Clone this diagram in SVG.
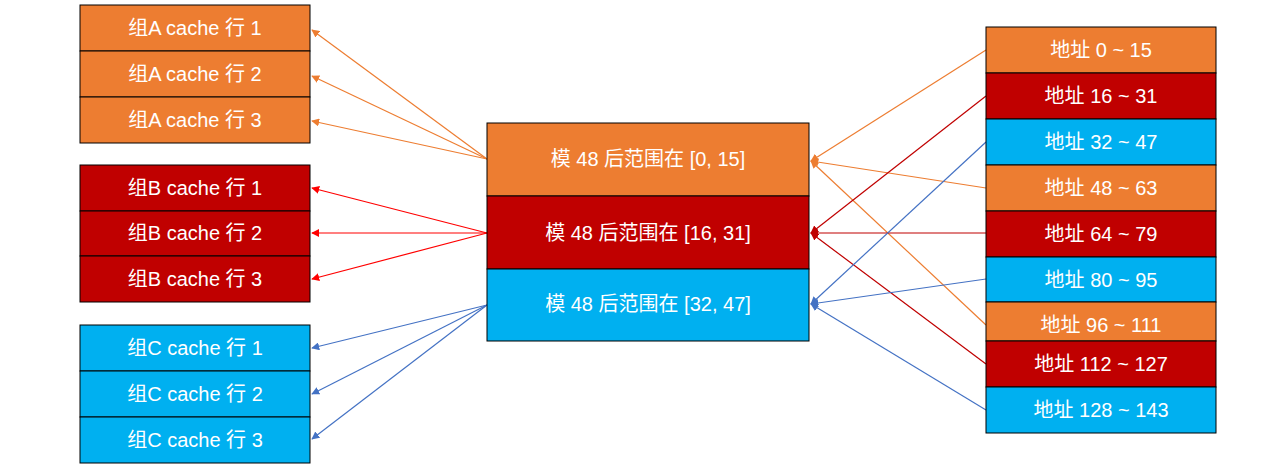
<svg xmlns="http://www.w3.org/2000/svg" width="1268" height="473" viewBox="0 0 1268 473">
<style>
text{font-family:"Liberation Sans","Noto Sans CJK SC",sans-serif;font-size:20px;fill:#fff;text-anchor:middle;dominant-baseline:central}
rect{stroke:#000;stroke-width:1}
.o{fill:#ED7D31}.r{fill:#C00000}.b{fill:#00B0F0}
line{stroke-width:1.2;fill:none}
.lo{stroke:#ED7D31;marker-end:url(#mo)}.lr{stroke:#FF0000;marker-end:url(#mr)}.lr2{stroke:#C00000;marker-end:url(#mr2)}.lb{stroke:#4472C4;marker-end:url(#mb)}
</style>
<defs>
<marker id="mo" viewBox="0 0 10 10" refX="9" refY="5" markerWidth="8" markerHeight="8" orient="auto" markerUnits="userSpaceOnUse"><path d="M0,0L10,5L0,10Z" fill="#ED7D31"/></marker>
<marker id="mr" viewBox="0 0 10 10" refX="9" refY="5" markerWidth="8" markerHeight="8" orient="auto" markerUnits="userSpaceOnUse"><path d="M0,0L10,5L0,10Z" fill="#FF0000"/></marker>
<marker id="mr2" viewBox="0 0 10 10" refX="9" refY="5" markerWidth="8" markerHeight="8" orient="auto" markerUnits="userSpaceOnUse"><path d="M0,0L10,5L0,10Z" fill="#C00000"/></marker>
<marker id="mb" viewBox="0 0 10 10" refX="9" refY="5" markerWidth="8" markerHeight="8" orient="auto" markerUnits="userSpaceOnUse"><path d="M0,0L10,5L0,10Z" fill="#4472C4"/></marker>
</defs>
<g id="connectors">
<line class="lo" x1="487" y1="159" x2="312" y2="30"/>
<line class="lo" x1="487" y1="159" x2="312" y2="76"/>
<line class="lo" x1="487" y1="159" x2="312" y2="121"/>
<line class="lr" x1="487" y1="233" x2="312" y2="188"/>
<line class="lr" x1="487" y1="233" x2="312" y2="233"/>
<line class="lr" x1="487" y1="233" x2="312" y2="279"/>
<line class="lb" x1="487" y1="305" x2="312" y2="348"/>
<line class="lb" x1="487" y1="305" x2="312" y2="394"/>
<line class="lb" x1="487" y1="305" x2="312" y2="439"/>
<line class="lo" x1="986" y1="50" x2="811" y2="161"/>
<line class="lo" x1="986" y1="188" x2="811" y2="161"/>
<line class="lo" x1="986" y1="325" x2="811" y2="161"/>
<line class="lr2" x1="986" y1="96" x2="811" y2="233"/>
<line class="lr2" x1="986" y1="233" x2="811" y2="233"/>
<line class="lr2" x1="986" y1="364" x2="811" y2="233"/>
<line class="lb" x1="986" y1="142" x2="811" y2="304"/>
<line class="lb" x1="986" y1="279" x2="811" y2="304"/>
<line class="lb" x1="986" y1="410" x2="811" y2="304"/>
</g>
<g id="a1"><rect class="o" x="80" y="5" width="230" height="46"/><text x="195" y="28">组A cache 行 1</text></g>
<g id="a2"><rect class="o" x="80" y="51" width="230" height="46"/><text x="195" y="74">组A cache 行 2</text></g>
<g id="a3"><rect class="o" x="80" y="97" width="230" height="46"/><text x="195" y="120">组A cache 行 3</text></g>
<g id="b1"><rect class="r" x="80" y="165" width="230" height="46"/><text x="195" y="188">组B cache 行 1</text></g>
<g id="b2"><rect class="r" x="80" y="211" width="230" height="45"/><text x="195" y="233">组B cache 行 2</text></g>
<g id="b3"><rect class="r" x="80" y="256" width="230" height="46"/><text x="195" y="279">组B cache 行 3</text></g>
<g id="c1"><rect class="b" x="80" y="325" width="230" height="46"/><text x="195" y="348">组C cache 行 1</text></g>
<g id="c2"><rect class="b" x="80" y="371" width="230" height="46"/><text x="195" y="394">组C cache 行 2</text></g>
<g id="c3"><rect class="b" x="80" y="417" width="230" height="46"/><text x="195" y="440">组C cache 行 3</text></g>
<g id="m1"><rect class="o" x="487" y="123" width="322" height="73"/><text x="648" y="159">模 48 后范围在 [0, 15]</text></g>
<g id="m2"><rect class="r" x="487" y="196" width="322" height="73"/><text x="648" y="233">模 48 后范围在 [16, 31]</text></g>
<g id="m3"><rect class="b" x="487" y="269" width="322" height="72"/><text x="648" y="304">模 48 后范围在 [32, 47]</text></g>
<g id="d0"><rect class="o" x="986" y="27" width="230" height="46"/><text x="1101" y="50">地址 0 ~ 15</text></g>
<g id="d1"><rect class="r" x="986" y="73" width="230" height="46"/><text x="1101" y="96">地址 16 ~ 31</text></g>
<g id="d2"><rect class="b" x="986" y="119" width="230" height="46"/><text x="1101" y="142">地址 32 ~ 47</text></g>
<g id="d3"><rect class="o" x="986" y="165" width="230" height="46"/><text x="1101" y="188">地址 48 ~ 63</text></g>
<g id="d4"><rect class="r" x="986" y="211" width="230" height="46"/><text x="1101" y="234">地址 64 ~ 79</text></g>
<g id="d5"><rect class="b" x="986" y="257" width="230" height="45"/><text x="1101" y="280">地址 80 ~ 95</text></g>
<g id="d6"><rect class="o" x="986" y="302" width="230" height="39"/><text x="1101" y="325">地址 96 ~ 111</text></g>
<g id="d7"><rect class="r" x="986" y="341" width="230" height="46"/><text x="1101" y="364">地址 112 ~ 127</text></g>
<g id="d8"><rect class="b" x="986" y="387" width="230" height="46"/><text x="1101" y="410">地址 128 ~ 143</text></g>
</svg>
